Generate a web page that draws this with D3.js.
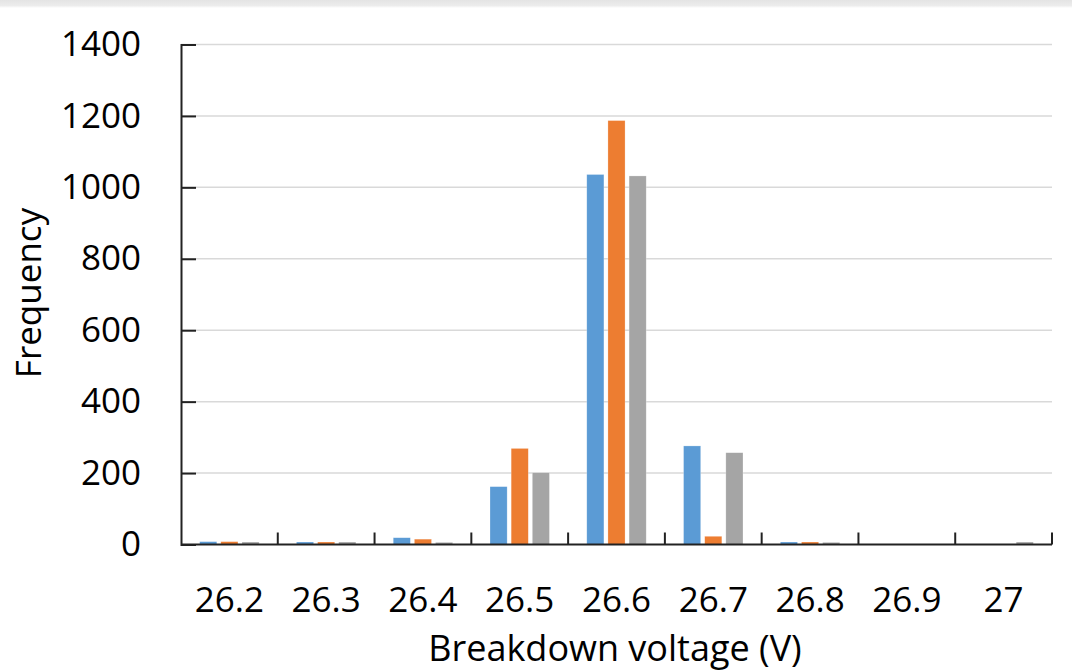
<!DOCTYPE html>
<html>
<head>
<meta charset="utf-8">
<script src="https://cdn.jsdelivr.net/npm/d3@7"></script>
<style>
  html, body { margin: 0; padding: 0; background: #fff; }
  svg { display: block; }
  text { font-family: "Open Sans", "Noto Sans", sans-serif; fill: #000; }
</style>
</head>
<body>
<svg id="chart" width="1072" height="671"></svg>
<script>
// Breakdown-voltage histogram: three runs per voltage bin
const categories = ["26.2", "26.3", "26.4", "26.5", "26.6", "26.7", "26.8", "26.9", "27"];
const seriesA = [8, 7, 19, 162, 1036, 276, 7, 0, 0];
const seriesB = [8, 7, 15, 269, 1187, 23, 7, 0, 0];
const seriesC = [7, 7, 6, 201, 1032, 257, 6, 0, 7];
const seriesNames = ["A", "B", "C"];
const seriesColors = ["#5B9BD5", "#ED7D31", "#A5A5A5"];
const yTicks = [0, 200, 400, 600, 800, 1000, 1200, 1400];

const series = [seriesA, seriesB, seriesC];
const rows = categories.map((c, i) => ({ cat: c, vals: series.map((s, j) => ({ key: seriesNames[j], v: s[i] })) }));

const svg = d3.select("#chart");
const plotLeft = 181, plotRight = 1052, plotTop = 44.5, plotBottom = 544.5;

// soft top border
const defs = svg.append("defs");
const grad = defs.append("linearGradient").attr("id", "topShade").attr("x1", 0).attr("y1", 0).attr("x2", 0).attr("y2", 1);
grad.append("stop").attr("offset", "0%").attr("stop-color", "#e4e4e4");
grad.append("stop").attr("offset", "70%").attr("stop-color", "#ececec");
grad.append("stop").attr("offset", "100%").attr("stop-color", "#ffffff");
svg.append("rect").attr("x", 0).attr("y", 0).attr("width", 1072).attr("height", 8).attr("fill", "url(#topShade)");

const x0 = d3.scaleBand().domain(categories).range([plotLeft, plotRight]).padding(0);
const x1 = d3.scaleBand().domain(seriesNames)
  .range([x0.bandwidth() * 0.193, x0.bandwidth() * 0.807]).paddingInner(0.19);
const y = d3.scaleLinear().domain([0, 1400]).range([plotBottom, plotTop]);

// horizontal gridlines
svg.append("g").selectAll("line").data(yTicks.filter(d => d > 0)).join("line")
  .attr("x1", plotLeft).attr("x2", plotRight)
  .attr("y1", d => y(d)).attr("y2", d => y(d))
  .attr("stroke", "#d9d9d9").attr("stroke-width", 1.5);

// bars
const groups = svg.append("g").selectAll("g").data(rows).join("g")
  .attr("transform", d => `translate(${x0(d.cat)},0)`);
groups.selectAll("rect").data(d => d.vals.filter(v => v.v > 0)).join("rect")
  .attr("x", d => x1(d.key))
  .attr("width", x1.bandwidth())
  .attr("y", d => y(d.v))
  .attr("height", d => y(0) - y(d.v))
  .attr("fill", d => seriesColors[seriesNames.indexOf(d.key)])
  .attr("stroke", "#ffffff").attr("stroke-opacity", 0.4).attr("stroke-width", 0.6);

// y axis with inward ticks
const yAxis = d3.axisLeft(y).tickValues(yTicks).tickSize(-15).tickPadding(40).tickFormat(d3.format("d"));
const gy = svg.append("g").attr("transform", `translate(${plotLeft},0)`).call(yAxis);
gy.select(".domain").attr("stroke", "#222").attr("stroke-width", 2);
gy.selectAll(".tick line").attr("stroke", "#222").attr("stroke-width", 2);
gy.selectAll(".tick text").attr("font-size", 35).attr("font-family", "'Open Sans', sans-serif").attr("fill", "#000");

// x axis: ticks at bin boundaries, pointing up
const boundaries = categories.map(c => x0(c) + x0.bandwidth());
svg.append("line").attr("x1", plotLeft).attr("x2", plotRight).attr("y1", plotBottom).attr("y2", plotBottom)
  .attr("stroke", "#222").attr("stroke-width", 2);
svg.append("g").selectAll("line").data(boundaries).join("line")
  .attr("x1", d => d).attr("x2", d => d).attr("y1", plotBottom).attr("y2", plotBottom - 12)
  .attr("stroke", "#222").attr("stroke-width", 2);
svg.append("g").selectAll("text").data(categories).join("text")
  .attr("x", d => x0(d) + x0.bandwidth() / 2)
  .attr("y", 612)
  .attr("text-anchor", "middle")
  .attr("font-size", 35)
  .text(d => d);

// axis titles
svg.append("text").attr("x", 615).attr("y", 661)
  .attr("text-anchor", "middle").attr("font-size", 36).text("Breakdown voltage (V)");
svg.append("text").attr("transform", "translate(41,293) rotate(-90)")
  .attr("text-anchor", "middle").attr("font-size", 35).text("Frequency");
</script>
</body>
</html>
